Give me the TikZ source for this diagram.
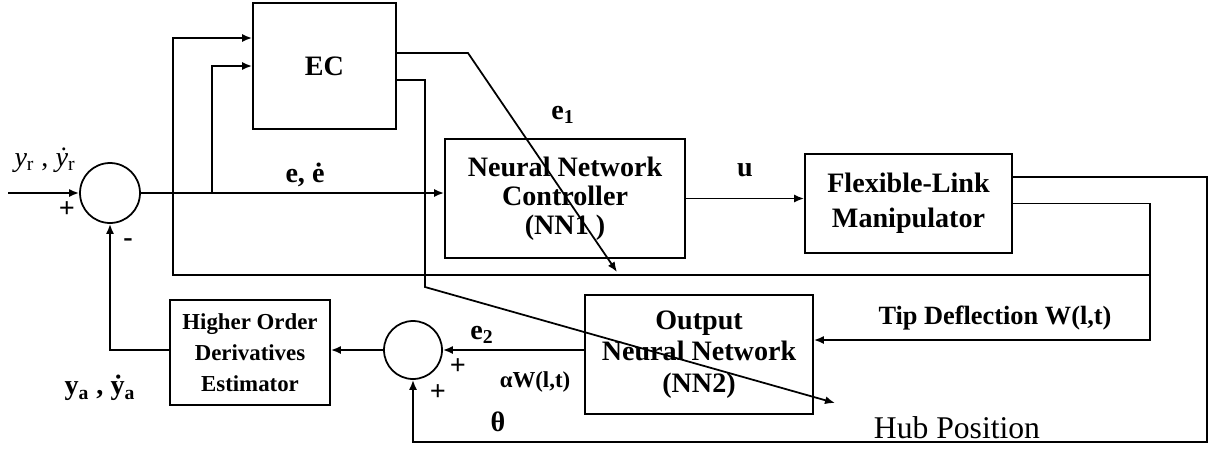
\documentclass[tikz,border=0pt]{standalone}
\usepackage{fontspec}
\setmainfont{Liberation Serif}
\usepackage{tikz}
\usetikzlibrary{arrows.meta, positioning, calc}
\tikzset{
  blockbox/.style={
    draw, line width=1pt, align=center,
    font=\fontsize{16}{17}\selectfont\bfseries, inner sep=2pt
  },
  sumnode/.style={
    draw, circle, line width=1pt, inner sep=0pt
  },
  sigline/.style={line width=1pt},
  sigarrow/.style={
    line width=1pt, -{Latex[length=2mm, width=1.6mm]}
  },
  siglabel/.style={
    font=\fontsize{16}{17}\selectfont\bfseries
  },
}

\begin{document}
\begin{tikzpicture}[x=0.02cm, y=-0.02cm,
  smallbox/.style={blockbox, font=\fontsize{13}{17.5}\selectfont\bfseries},
]
  \useasboundingbox (0,0) rectangle (1216,450);

  % === Blocks ===
  \node[sumnode, minimum size=1.2cm] (sum1) at (110,193) {};
  \node[blockbox, minimum width=2.86cm, minimum height=2.52cm] (ec) at (324.5,66) {EC};
  \node[blockbox, minimum width=4.8cm, minimum height=2.38cm,
    font=\fontsize{16}{16.5}\selectfont\bfseries] (nn1) at (565,198.5)
    {Neural Network\\Controller\\(NN1 )};
  \node[blockbox, minimum width=4.14cm, minimum height=1.98cm,
    font=\fontsize{16}{20}\selectfont\bfseries] (flm) at (908.5,203.5)
    {Flexible-Link\\Manipulator};
  \node[blockbox, minimum width=4.56cm, minimum height=2.38cm,
    font=\fontsize{16}{18}\selectfont\bfseries] (nn2) at (699,354.5)
    {Output\\Neural Network\\(NN2)};
  \node[sumnode, minimum size=1.16cm] (sum2) at (413,350) {};
  \node[smallbox, minimum width=3.2cm, minimum height=2.1cm] (hode) at (250,352.5)
    {Higher Order\\Derivatives\\Estimator};

  % === Bend points ===
  \coordinate (in) at (8,193);
  \coordinate (ebr) at (212,193);
  \coordinate (ecin1) at (173,38);
  \coordinate (tipbr) at (1150,275);
  \coordinate (tipcorner) at (1150,340);
  \coordinate (hubcorner) at (1207,442);
  \coordinate (e1bend) at (468,53);
  \coordinate (e1end) at (617,272);
  \coordinate (e2bend) at (425,287);
  \coordinate (e2end) at (835,403);

  % === Forward path ===
  \draw[sigarrow] (in) -- (sum1.west);
  \draw[sigarrow] (sum1.east) -- (sum1.east -| nn1.west);
  \draw[sigarrow] (ebr) |- (ec.west);
  \draw[sigarrow] (nn1.east) -- (nn1.east -| flm.west);

  % === EC outputs ===
  \draw[sigarrow] ([yshift=0.26cm]ec.east) -- (e1bend) -- (e1end);
  \draw[sigarrow] ([yshift=-0.28cm]ec.east) -| (e2bend) -- (e2end);

  % === Feedback ===
  \draw[sigarrow] (flm.east) -| (tipcorner) -- (nn2.east |- tipcorner);
  \draw[sigarrow] (tipbr) -| (ecin1) -- (ecin1 -| ec.west);
  \draw[sigarrow] ([yshift=0.53cm]flm.east) -| (hubcorner) -| (sum2.south);
  \draw[sigarrow] (nn2.west |- sum2.east) -- (sum2.east);
  \draw[sigarrow] (sum2.west) -- (sum2.west -| hode.east);
  \draw[sigarrow] (hode.west |- sum2) -| (sum1.south);

  % === Labels ===
  \node[font=\fontsize{16}{17}\selectfont] at (45,160) {\textit{y}\textsubscript{r} , \textit{\.{y}}\textsubscript{r}};
  \node[siglabel] at (67,210) {+};
  \node[siglabel] at (128,243) {-};
  \node[siglabel] at (305,175) {e, \.{e}};
  \node[siglabel] at (563,115) {e\textsubscript{1}};
  \node[siglabel] at (745,170) {u};
  \node[siglabel, font=\fontsize{15}{17}\selectfont\bfseries] at (995,318) {Tip Deflection W(l,t)};
  \node[font=\fontsize{18}{20}\selectfont] at (957,428) {Hub Position};
  \node[siglabel] at (498,422) {θ};
  \node[siglabel] at (482,335) {e\textsubscript{2}};
  \node[siglabel] at (458,367) {+};
  \node[siglabel] at (438,393) {+};
  \node[siglabel, font=\fontsize{13}{15}\selectfont\bfseries] at (535,382) {αW(l,t)};
  \node[siglabel] at (100,388) {y\textsubscript{a} , \.{y}\textsubscript{a}};

\end{tikzpicture}
\end{document}
